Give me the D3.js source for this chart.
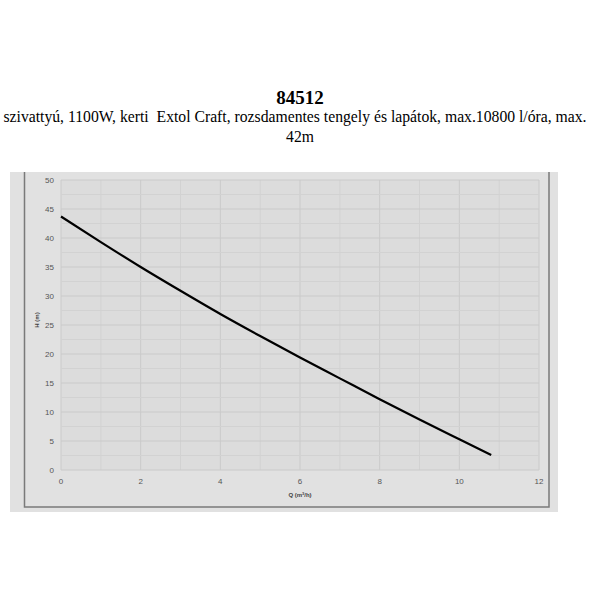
<!DOCTYPE html>
<html>
<head>
<meta charset="utf-8">
<script src="https://cdn.jsdelivr.net/npm/d3@7"></script>
<style>
  body { margin: 0; background: #fff; }
  svg { display: block; }
</style>
</head>
<body>
<div id="chart"></div>
<script>
var w = 600,
    h = 600;

// pump curve: Q in m3/h, H in m
var flow = [0, 1, 2, 3, 4, 5, 6, 7, 8, 9, 10, 10.8];
var head = [43.7, 39.3, 35.0, 30.9, 26.9, 23.1, 19.4, 15.8, 12.2, 8.7, 5.3, 2.6];
var xTicks = [0, 2, 4, 6, 8, 10, 12];
var yTicks = [0, 5, 10, 15, 20, 25, 30, 35, 40, 45, 50];

var svg = d3.select("#chart").append("svg")
  .attr("width", w)
  .attr("height", h);

// titles
svg.append("text")
  .attr("x", 300).attr("y", 104)
  .attr("text-anchor", "middle")
  .style("font-family", "'Liberation Serif', serif")
  .style("font-weight", "bold")
  .style("font-size", "19px")
  .text("84512");

svg.append("text")
  .attr("x", 295).attr("y", 122)
  .attr("text-anchor", "middle")
  .style("font-family", "'Liberation Serif', serif")
  .style("font-size", "15.7px")
  .style("white-space", "pre")
  .text("szivattyú, 1100W, kerti  Extol Craft, rozsdamentes tengely és lapátok, max.10800 l/óra, max.");

svg.append("text")
  .attr("x", 300).attr("y", 142)
  .attr("text-anchor", "middle")
  .style("font-family", "'Liberation Serif', serif")
  .style("font-size", "15.7px")
  .text("42m");

// gray panel with its frame
svg.append("rect")
  .attr("x", 10).attr("y", 172)
  .attr("width", 548).attr("height", 340)
  .attr("fill", "#e1e1e1");

svg.append("path")
  .attr("d", "M 24.5 172 L 24.5 507 L 549 507 L 549 172")
  .attr("fill", "none")
  .attr("stroke", "#7a7a7a")
  .attr("stroke-width", 1.5);

var x = d3.scaleLinear().domain([0, 12]).range([61, 539]);
var y = d3.scaleLinear().domain([0, 50]).range([470, 180]);

svg.append("rect")
  .attr("x", x(0)).attr("y", y(50))
  .attr("width", x(12) - x(0)).attr("height", y(0) - y(50))
  .attr("fill", "#dcdcdc");

// grid: minor then major
var grid = svg.append("g");
grid.selectAll(".vx").data(d3.range(0, 13, 1)).enter().append("line")
  .attr("x1", function(d) { return x(d); })
  .attr("x2", function(d) { return x(d); })
  .attr("y1", y(0)).attr("y2", y(50))
  .attr("stroke", function(d) { return d % 2 ? "#d2d2d2" : "#cacaca"; })
  .attr("stroke-width", 1);

grid.selectAll(".hy").data(d3.range(0, 50.1, 2.5)).enter().append("line")
  .attr("x1", x(0)).attr("x2", x(12))
  .attr("y1", function(d) { return y(d); })
  .attr("y2", function(d) { return y(d); })
  .attr("stroke", function(d) { return d % 5 ? "#d2d2d2" : "#cacaca"; })
  .attr("stroke-width", 1);

// tick labels
svg.selectAll(".ylab").data(yTicks).enter().append("text")
  .attr("x", 54)
  .attr("y", function(d) { return y(d) + 3; })
  .attr("text-anchor", "end")
  .style("font-family", "'Liberation Sans', Arial, sans-serif")
  .style("font-size", "8px")
  .style("fill", "#555")
  .text(function(d) { return d; });

svg.selectAll(".xlab").data(xTicks).enter().append("text")
  .attr("x", function(d) { return x(d); })
  .attr("y", 484)
  .attr("text-anchor", "middle")
  .style("font-family", "'Liberation Sans', Arial, sans-serif")
  .style("font-size", "8px")
  .style("fill", "#555")
  .text(function(d) { return d; });

// axis titles
svg.append("text")
  .attr("x", 300).attr("y", 497)
  .attr("text-anchor", "middle")
  .style("font-family", "'Liberation Sans', Arial, sans-serif")
  .style("font-size", "6px")
  .style("font-weight", "bold")
  .style("fill", "#444")
  .html("Q (m<tspan dy='-2' font-size='4px'>3</tspan><tspan dy='2'>/h)</tspan>");

svg.append("text")
  .attr("transform", "translate(39,320) rotate(-90)")
  .attr("text-anchor", "middle")
  .style("font-family", "'Liberation Sans', Arial, sans-serif")
  .style("font-size", "6px")
  .style("font-weight", "bold")
  .style("fill", "#444")
  .text("H (m)");

// the curve
var line = d3.line()
  .x(function(d, i) { return x(flow[i]); })
  .y(function(d) { return y(d); })
  .curve(d3.curveMonotoneX);

svg.append("path")
  .datum(head)
  .attr("d", line)
  .attr("fill", "none")
  .attr("stroke", "#000")
  .attr("stroke-width", 2.2);
</script>
</body>
</html>
